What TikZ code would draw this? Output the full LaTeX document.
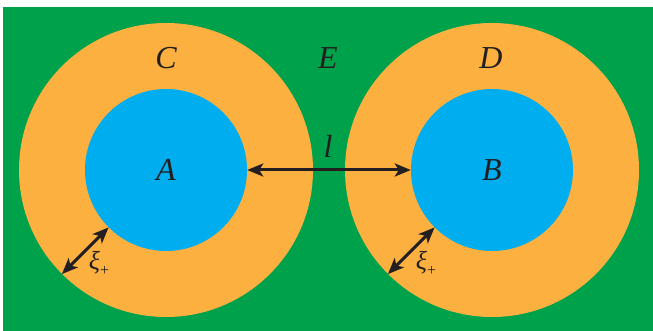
\documentclass[tikz,border=0pt]{standalone}
\usepackage{fontspec}
\setmainfont{Liberation Serif}
\usetikzlibrary{arrows.meta}
\definecolor{bggreen}{HTML}{00A14B}
\definecolor{ringorange}{HTML}{FBB040}
\definecolor{coreblue}{HTML}{00AEEF}
\definecolor{inkdark}{HTML}{231F20}
\tikzset{
  lbl/.style={font=\fontsize{32}{32}\selectfont\itshape, text=inkdark, inner sep=0pt},
  xilbl/.style={font=\fontsize{26}{26}\selectfont\itshape, text=inkdark, inner sep=0pt},
  dimarrow/.style={draw=inkdark, line width=3pt, {Stealth[length=16pt,width=13pt,inset=4pt]}-{Stealth[length=16pt,width=13pt,inset=4pt]}},
  ring/.style={circle, fill=ringorange, minimum size=294pt, inner sep=0pt},
  core/.style={circle, fill=coreblue, minimum size=162pt, inner sep=0pt}
}
\begin{document}
\begin{tikzpicture}[x=1pt,y=-1pt]
\useasboundingbox (0,0) rectangle (653,331);
\fill[bggreen] (3,7) rectangle (653,331);
\node[ring] (C) at (166,170) {};
\node[ring] (D) at (492,170) {};
\node[core] (Acirc) at (166,170) {};
\node[core] (Bcirc) at (492,170) {};
\node[lbl] (A) at (166,170) {A};
\node[lbl] (B) at (492,170) {B};
\node[lbl] (Clbl) at (166,58) {C};
\node[lbl] (Dlbl) at (491,58) {D};
\node[lbl] (E) at (328,58) {E};
\node[lbl] (l) at (328,146) {l};
\draw[dimarrow] (Acirc.east) -- (Bcirc.west);
\coordinate (a1) at (Acirc.-135);
\coordinate (a2) at (C.-135);
\coordinate (b1) at (Bcirc.-135);
\coordinate (b2) at (D.-135);
\draw[dimarrow] (a1) -- (a2);
\draw[dimarrow] (b1) -- (b2);
\node[xilbl] (xiA) at (99,263) {ξ\raisebox{-6pt}{\fontsize{16}{16}\selectfont\upshape +}};
\node[xilbl] (xiB) at (426,263) {ξ\raisebox{-6pt}{\fontsize{16}{16}\selectfont\upshape +}};
\end{tikzpicture}
\end{document}
